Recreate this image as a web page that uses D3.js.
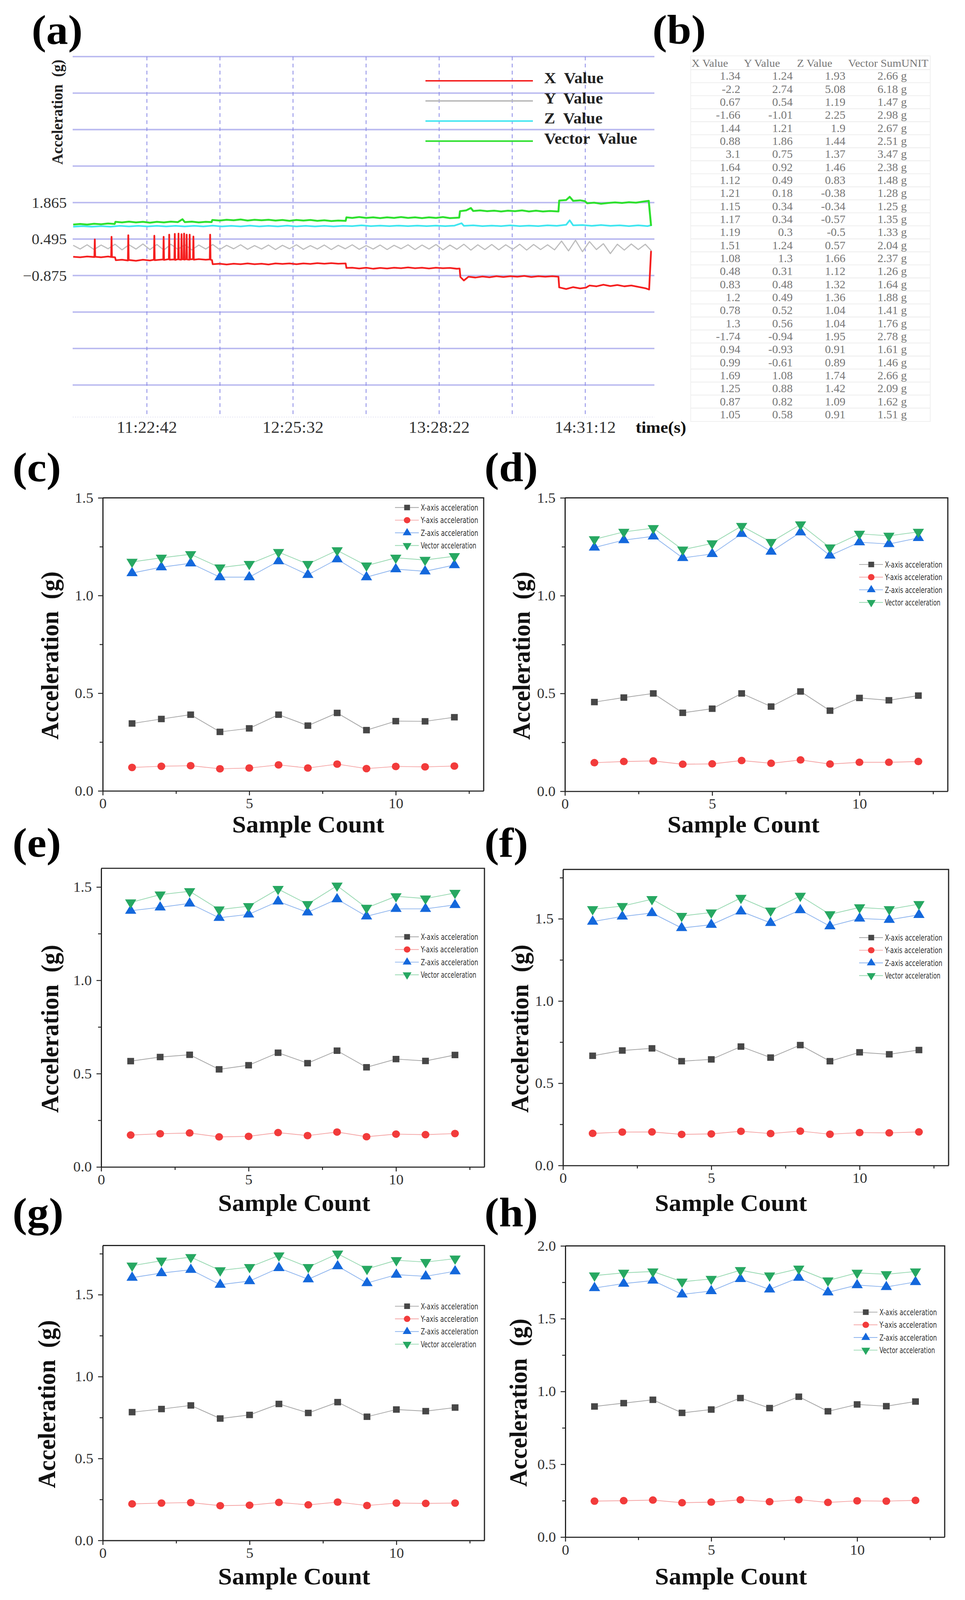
<!DOCTYPE html>
<html>
<head>
<meta charset="utf-8">
<title>Acceleration</title>
<script src="https://cdn.jsdelivr.net/npm/d3@7"></script>
<style>
  html, body { margin: 0; padding: 0; height: 100%; overflow: hidden; background: #fff; }
  svg { display: block; width: 100vw; height: 100vh; }
</style>
</head>
<body>
<script>
// ---------- panel (a): live readings, [time, g] ----------
var xValueA = [["10:51:00",-0.17],["10:54:00",-0.19],["10:57:00",-0.16],["11:00:08",-0.18],["11:00:18",0.48],["11:00:28",-0.17],
  ["11:03:00",-0.19],["11:06:00",-0.16],["11:07:20",-0.18],["11:07:30",0.58],["11:07:40",-0.18],["11:09:00",-0.19],["11:09:20",-0.30],
  ["11:12:00",-0.28],["11:14:32",-0.31],["11:14:42",0.64],["11:14:52",-0.29],["11:18:00",-0.32],["11:21:00",-0.28],["11:24:00",-0.31],
  ["11:25:44",-0.28],["11:25:54",0.62],["11:26:04",-0.30],["11:29:44",-0.27],["11:29:54",0.58],["11:30:04",-0.29],["11:32:08",-0.26],
  ["11:32:18",0.66],["11:32:28",-0.28],["11:34:32",-0.27],["11:34:42",0.69],["11:34:52",-0.29],["11:36:08",-0.26],["11:36:18",0.70],
  ["11:36:28",-0.27],["11:37:26",-0.28],["11:37:36",0.68],["11:37:46",-0.26],["11:38:32",-0.27],["11:38:42",0.70],["11:38:52",-0.28],
  ["11:39:38",-0.26],["11:39:48",0.66],["11:39:58",-0.27],["11:40:56",-0.28],["11:41:06",0.66],["11:41:16",-0.27],["11:42:32",-0.26],
  ["11:42:42",0.59],["11:42:52",-0.28],["11:45:00",-0.26],["11:48:00",-0.28],["11:49:44",-0.27],["11:49:54",0.66],["11:50:04",-0.28],
  ["11:50:40",-0.29],["11:51:00",-0.45],["11:54:00",-0.43],["11:57:00",-0.46],["12:00:00",-0.43],["12:03:00",-0.45],["12:06:00",-0.42],
  ["12:09:00",-0.45],["12:12:00",-0.43],["12:15:00",-0.46],["12:18:00",-0.42],["12:21:00",-0.44],["12:24:00",-0.42],["12:27:00",-0.45],
  ["12:30:00",-0.42],["12:33:00",-0.44],["12:36:00",-0.41],["12:39:00",-0.43],["12:42:00",-0.41],["12:45:00",-0.43],["12:48:10",-0.42],
  ["12:48:30",-0.59],["12:51:00",-0.58],["12:54:00",-0.61],["12:57:00",-0.58],["13:00:00",-0.62],["13:03:00",-0.59],["13:06:00",-0.61],
  ["13:09:00",-0.58],["13:12:00",-0.60],["13:15:00",-0.57],["13:18:00",-0.60],["13:21:00",-0.58],["13:24:00",-0.61],["13:27:00",-0.58],
  ["13:30:00",-0.60],["13:33:00",-0.59],["13:36:00",-0.62],["13:37:10",-0.61],["13:37:30",-0.93],["13:39:00",-1.06],["13:41:00",-0.92],
  ["13:44:00",-0.95],["13:47:00",-0.91],["13:50:00",-0.94],["13:53:00",-0.90],["13:56:00",-0.93],["13:59:00",-0.90],["14:02:00",-0.92],
  ["14:05:00",-0.89],["14:08:00",-0.93],["14:11:00",-0.90],["14:14:00",-0.92],["14:17:00",-0.90],["14:19:40",-0.92],["14:20:00",-1.32],
  ["14:23:00",-1.38],["14:26:00",-1.31],["14:29:00",-1.36],["14:31:30",-1.33],["14:33:00",-1.25],["14:36:00",-1.28],["14:39:00",-1.22],
  ["14:42:00",-1.27],["14:45:00",-1.23],["14:48:00",-1.28],["14:51:00",-1.25],["14:54:00",-1.30],["14:57:00",-1.35],["14:58:40",-1.40],
  ["14:59:30",0.05]];
var yValueA = [["10:51:00",0.26],["10:54:00",0.12],["10:57:00",0.28],["11:00:00",0.10],["11:03:00",0.27],["11:06:00",0.13],["11:09:00",0.30],
  ["11:12:00",0.09],["11:15:00",0.28],["11:18:00",0.12],["11:21:00",0.31],["11:24:00",0.10],["11:27:00",0.29],["11:30:00",0.08],
  ["11:33:00",0.30],["11:36:00",0.11],["11:39:00",0.28],["11:42:00",0.09],["11:45:00",0.27],["11:48:00",0.12],["11:51:00",0.29],
  ["11:54:00",0.10],["11:57:00",0.26],["12:00:00",0.13],["12:03:00",0.28],["12:06:00",0.11],["12:09:00",0.25],["12:12:00",0.12],
  ["12:15:00",0.27],["12:18:00",0.10],["12:21:00",0.26],["12:24:00",0.13],["12:27:00",0.28],["12:30:00",0.11],["12:33:00",0.25],
  ["12:36:00",0.12],["12:39:00",0.27],["12:42:00",0.10],["12:45:00",0.26],["12:48:00",0.13],["12:51:00",0.28],["12:54:00",0.11],
  ["12:57:00",0.25],["13:00:00",0.12],["13:03:00",0.27],["13:06:00",0.10],["13:09:00",0.26],["13:12:00",0.13],["13:15:00",0.28],
  ["13:18:00",0.10],["13:21:00",0.27],["13:24:00",0.12],["13:27:00",0.29],["13:30:00",0.09],["13:33:00",0.27],["13:36:00",0.11],
  ["13:39:00",0.30],["13:42:00",0.08],["13:45:00",0.28],["13:48:00",0.10],["13:51:00",0.29],["13:54:00",0.09],["13:57:00",0.28],
  ["14:00:00",0.11],["14:03:00",0.30],["14:06:00",0.08],["14:09:00",0.29],["14:12:00",0.10],["14:15:00",0.28],["14:18:00",0.09],
  ["14:21:00",0.42],["14:24:00",0.05],["14:27:00",0.45],["14:30:00",0.02],["14:33:00",0.40],["14:36:00",0.10],["14:39:00",0.32],
  ["14:42:00",-0.05],["14:45:00",0.30],["14:48:00",0.08],["14:51:00",0.31],["14:54:00",0.10],["14:57:00",0.30],["14:59:40",0.05]];
var zValueA = [["10:51:00",0.96],["10:55:00",0.98],["10:59:00",0.96],["11:03:00",0.98],["11:07:00",0.96],["11:11:00",0.99],["11:15:00",0.97],
  ["11:19:00",0.99],["11:23:00",0.97],["11:27:00",0.99],["11:31:00",0.97],["11:35:00",0.99],["11:39:00",0.97],["11:43:00",0.99],
  ["11:47:00",0.97],["11:51:00",1.00],["11:55:00",0.97],["11:59:00",0.99],["12:03:00",0.97],["12:07:00",1.00],["12:11:00",0.97],
  ["12:15:00",0.99],["12:19:00",0.97],["12:23:00",1.00],["12:27:00",0.97],["12:31:00",0.99],["12:35:00",0.97],["12:39:00",0.99],
  ["12:43:00",0.97],["12:47:00",0.99],["12:51:00",0.98],["12:55:00",1.01],["12:59:00",0.98],["13:03:00",1.00],["13:07:00",0.98],
  ["13:11:00",1.00],["13:15:00",0.98],["13:19:00",1.00],["13:23:00",0.98],["13:27:00",1.00],["13:31:00",0.98],["13:35:00",1.00],
  ["13:38:00",1.09],["13:39:00",0.99],["13:43:00",1.01],["13:47:00",0.98],["13:51:00",1.00],["13:55:00",0.98],["13:59:00",1.01],
  ["14:03:00",0.98],["14:07:00",1.00],["14:11:00",0.98],["14:15:00",1.01],["14:19:00",0.99],["14:23:00",1.03],["14:24:30",1.20],
  ["14:26:00",1.01],["14:30:00",1.02],["14:34:00",0.99],["14:38:00",1.02],["14:42:00",0.99],["14:46:00",1.01],["14:50:00",0.98],
  ["14:54:00",1.01],["14:58:00",0.98],["14:59:50",1.02]];
var vectorValueA = [["10:51:00",1.04],["10:54:00",1.06],["10:57:00",1.04],["11:00:00",1.07],["11:03:00",1.05],["11:06:00",1.08],
  ["11:08:50",1.06],["11:09:10",1.14],["11:12:00",1.12],["11:15:00",1.15],["11:18:00",1.12],["11:21:00",1.14],["11:24:00",1.11],
  ["11:27:00",1.14],["11:30:00",1.12],["11:33:00",1.15],["11:36:00",1.13],["11:38:00",1.24],["11:39:00",1.13],["11:42:00",1.15],
  ["11:45:00",1.12],["11:48:00",1.14],["11:50:30",1.13],["11:50:50",1.21],["11:54:00",1.19],["11:57:00",1.22],["12:00:00",1.20],
  ["12:03:00",1.23],["12:06:00",1.19],["12:09:00",1.22],["12:12:00",1.20],["12:15:00",1.22],["12:18:00",1.19],["12:21:00",1.21],
  ["12:24:00",1.18],["12:27:00",1.21],["12:30:00",1.19],["12:33:00",1.21],["12:36:00",1.18],["12:39:00",1.20],["12:42:00",1.17],
  ["12:45:00",1.19],["12:48:10",1.18],["12:48:30",1.31],["12:51:00",1.29],["12:54:00",1.32],["12:57:00",1.29],["13:00:00",1.31],
  ["13:03:00",1.28],["13:06:00",1.31],["13:09:00",1.29],["13:12:00",1.32],["13:15:00",1.29],["13:18:00",1.31],["13:21:00",1.28],
  ["13:24:00",1.31],["13:27:00",1.29],["13:30:00",1.32],["13:33:00",1.28],["13:37:00",1.30],["13:37:20",1.54],["13:40:00",1.57],
  ["13:42:00",1.66],["13:43:00",1.55],["13:46:00",1.57],["13:49:00",1.54],["13:52:00",1.56],["13:55:00",1.53],["13:58:00",1.56],
  ["14:01:00",1.54],["14:04:00",1.57],["14:07:00",1.53],["14:10:00",1.56],["14:13:00",1.53],["14:16:00",1.55],["14:19:40",1.53],
  ["14:20:00",1.94],["14:23:00",1.96],["14:24:30",2.08],["14:26:00",1.93],["14:29:00",1.95],["14:31:00",1.92],["14:32:00",1.84],
  ["14:35:00",1.86],["14:38:00",1.82],["14:41:00",1.85],["14:44:00",1.87],["14:47:00",1.85],["14:50:00",1.88],["14:53:00",1.86],
  ["14:56:00",1.90],["14:58:30",1.93],["14:59:30",0.99]];

var gridValuesA = [-4.985, -3.615, -2.245, -0.875, 0.495, 1.865, 3.235, 4.605, 5.975, 7.345];
var tickValuesA = [1.865, 0.495, -0.875];
var gridTimesA = ["11:22:42", "11:54:07", "12:25:32", "12:56:57", "13:28:22", "13:59:47", "14:31:12"];
var tickTimesA = ["11:22:42", "12:25:32", "13:28:22", "14:31:12"];
var timeDomainA = ["10:50:47", "15:00:56"];
var legendA = ["X  Value", "Y  Value", "Z  Value", "Vector  Value"];

// ---------- panel (b): readout table ----------
var tableHeaders = ["X Value", "Y Value", "Z Value", "Vector SumUNIT"];
var tableX = [1.34, -2.2, 0.67, -1.66, 1.44, 0.88, 3.1, 1.64, 1.12, 1.21, 1.15, 1.17, 1.19, 1.51, 1.08, 0.48, 0.83, 1.2, 0.78, 1.3, -1.74, 0.94, 0.99, 1.69, 1.25, 0.87, 1.05];
var tableY = [1.24, 2.74, 0.54, -1.01, 1.21, 1.86, 0.75, 0.92, 0.49, 0.18, 0.34, 0.34, 0.3, 1.24, 1.3, 0.31, 0.48, 0.49, 0.52, 0.56, -0.94, -0.93, -0.61, 1.08, 0.88, 0.82, 0.58];
var tableZ = [1.93, 5.08, 1.19, 2.25, 1.9, 1.44, 1.37, 1.46, 0.83, -0.38, -0.34, -0.57, -0.5, 0.57, 1.66, 1.12, 1.32, 1.36, 1.04, 1.04, 1.95, 0.91, 0.89, 1.74, 1.42, 1.09, 0.91];
var tableVector = [2.66, 6.18, 1.47, 2.98, 2.67, 2.51, 3.47, 2.38, 1.48, 1.28, 1.25, 1.35, 1.33, 2.04, 2.37, 1.26, 1.64, 1.88, 1.41, 1.76, 2.78, 1.61, 1.46, 2.66, 2.09, 1.62, 1.51];

// ---------- panels (c)-(h): 12 samples each ----------
var sampleCount = [1, 2, 3, 4, 5, 6, 7, 8, 9, 10, 11, 12];
var cX = [0.345, 0.368, 0.390, 0.302, 0.320, 0.390, 0.334, 0.399, 0.311, 0.357, 0.356, 0.377];
var cY = [0.120, 0.126, 0.129, 0.113, 0.117, 0.133, 0.117, 0.137, 0.114, 0.125, 0.123, 0.127];
var cZ = [1.115, 1.145, 1.165, 1.094, 1.094, 1.176, 1.106, 1.186, 1.094, 1.135, 1.124, 1.156];
var cV = [1.172, 1.193, 1.211, 1.143, 1.161, 1.222, 1.161, 1.231, 1.153, 1.193, 1.182, 1.201];
var dX = [0.456, 0.479, 0.500, 0.401, 0.422, 0.500, 0.433, 0.510, 0.412, 0.477, 0.465, 0.489];
var dY = [0.146, 0.152, 0.155, 0.138, 0.140, 0.157, 0.143, 0.160, 0.139, 0.148, 0.148, 0.152];
var dZ = [1.246, 1.284, 1.303, 1.193, 1.213, 1.316, 1.225, 1.324, 1.205, 1.273, 1.264, 1.295];
var dV = [1.288, 1.326, 1.345, 1.235, 1.267, 1.356, 1.274, 1.364, 1.246, 1.316, 1.306, 1.326];
var eX = [0.567, 0.589, 0.601, 0.523, 0.545, 0.612, 0.556, 0.623, 0.534, 0.578, 0.568, 0.600];
var eY = [0.171, 0.178, 0.182, 0.161, 0.164, 0.184, 0.168, 0.187, 0.162, 0.176, 0.173, 0.179];
var eZ = [1.373, 1.391, 1.412, 1.335, 1.353, 1.423, 1.364, 1.435, 1.343, 1.383, 1.383, 1.404];
var eV = [1.417, 1.459, 1.477, 1.379, 1.397, 1.489, 1.408, 1.507, 1.388, 1.450, 1.438, 1.468];
var fX = [0.667, 0.699, 0.712, 0.634, 0.645, 0.723, 0.656, 0.732, 0.634, 0.688, 0.676, 0.702];
var fY = [0.195, 0.203, 0.204, 0.189, 0.192, 0.208, 0.194, 0.209, 0.190, 0.200, 0.198, 0.204];
var fZ = [1.483, 1.514, 1.535, 1.444, 1.464, 1.545, 1.475, 1.553, 1.455, 1.502, 1.494, 1.524];
var fV = [1.558, 1.577, 1.619, 1.517, 1.538, 1.627, 1.549, 1.639, 1.527, 1.569, 1.558, 1.589];
var gX = [0.783, 0.802, 0.824, 0.744, 0.766, 0.833, 0.778, 0.844, 0.755, 0.799, 0.789, 0.811];
var gY = [0.223, 0.228, 0.231, 0.212, 0.215, 0.232, 0.217, 0.234, 0.213, 0.228, 0.226, 0.228];
var gZ = [1.604, 1.632, 1.652, 1.561, 1.583, 1.663, 1.594, 1.674, 1.571, 1.622, 1.612, 1.643];
var gV = [1.677, 1.707, 1.729, 1.648, 1.668, 1.739, 1.668, 1.750, 1.657, 1.710, 1.699, 1.720];
var hX = [0.897, 0.920, 0.943, 0.853, 0.876, 0.955, 0.886, 0.964, 0.864, 0.911, 0.899, 0.931];
var hY = [0.247, 0.250, 0.254, 0.236, 0.240, 0.256, 0.243, 0.257, 0.238, 0.249, 0.247, 0.252];
var hZ = [1.711, 1.741, 1.762, 1.667, 1.690, 1.773, 1.701, 1.782, 1.681, 1.731, 1.718, 1.752];
var hV = [1.796, 1.815, 1.824, 1.754, 1.773, 1.833, 1.796, 1.843, 1.762, 1.815, 1.805, 1.824];
var yMaxes = [1.5, 1.5, 1.6, 1.8, 1.8, 2.0];
var legendNames = ["X-axis acceleration", "Y-axis acceleration", "Z-axis acceleration", "Vector acceleration"];

var width = 2470;
var height = 4297;
var serif = "'Liberation Serif', 'Times New Roman', serif";

// drawn in 2470x4297 units, stretched to whatever the visible window is
var svg = d3.select("body")
    .append("svg")
    .attr("viewBox", "0 0 " + width + " " + height)
    .attr("preserveAspectRatio", "none");
svg.append("rect").attr("width", width).attr("height", height).attr("fill", "#fff");

function panelLabel(txt, x, y) {
    svg.append("text")
        .attr("x", x).attr("y", y)
        .attr("font-family", serif)
        .attr("font-weight", "bold")
        .attr("font-size", 112)
        .attr("fill", "#000")
        .text(txt);
}

// ================= (a) =================
var parseT = d3.timeParse("%H:%M:%S");
var aLeft = 186, aRight = 1675, aBottomEdge = 1120;
var xA = d3.scaleTime()
    .domain(timeDomainA.map(parseT))
    .range([aLeft, aRight]);
var yA = d3.scaleLinear()
    .domain([-4.985, 7.345])
    .range([1034, 152]);

panelLabel("(a)", 81, 117);

var ga = svg.append("g");
ga.selectAll(".hgrid")
    .data(gridValuesA)
    .enter().append("line")
    .attr("x1", aLeft).attr("x2", aRight)
    .attr("y1", d => yA(d)).attr("y2", d => yA(d))
    .attr("stroke", "#babaf0")
    .attr("stroke-width", 4);
ga.selectAll(".vgrid")
    .data(gridTimesA)
    .enter().append("line")
    .attr("x1", d => xA(parseT(d))).attr("x2", d => xA(parseT(d)))
    .attr("y1", yA(7.345)).attr("y2", aBottomEdge)
    .attr("stroke", "#8a8ae6")
    .attr("stroke-width", 2)
    .attr("stroke-dasharray", "10,9");
ga.append("line")
    .attr("x1", aLeft).attr("x2", aRight)
    .attr("y1", aBottomEdge).attr("y2", aBottomEdge)
    .attr("stroke", "#e2e2f2").attr("stroke-width", 2)
    .attr("stroke-dasharray", "3,3");

svg.append("clipPath").attr("id", "clipA")
    .append("rect").attr("x", aLeft).attr("y", 140)
    .attr("width", aRight - aLeft).attr("height", aBottomEdge - 140);

var lineA = d3.line()
    .x(d => xA(parseT(d[0])))
    .y(d => yA(d[1]));
var seriesA = [
    {data: yValueA, color: "#bdbdbd", w: 3},
    {data: zValueA, color: "#3fe6f0", w: 4.5},
    {data: vectorValueA, color: "#2ee02e", w: 5},
    {data: xValueA, color: "#f51f1f", w: 4.5}
];
var gLines = svg.append("g").attr("clip-path", "url(#clipA)");
gLines.selectAll("path")
    .data(seriesA)
    .enter().append("path")
    .attr("fill", "none")
    .attr("stroke", d => d.color)
    .attr("stroke-width", d => d.w)
    .attr("stroke-linejoin", "round")
    .attr("d", d => lineA(d.data));

ga.selectAll(".ytick")
    .data(tickValuesA)
    .enter().append("text")
    .attr("x", 171)
    .attr("y", d => yA(d))
    .attr("dy", "0.35em")
    .attr("text-anchor", "end")
    .attr("font-family", serif)
    .attr("font-size", 40)
    .attr("fill", "#333")
    .text(d => d3.format(".3f")(d));

ga.selectAll(".xtick")
    .data(tickTimesA)
    .enter().append("text")
    .attr("x", d => xA(parseT(d)))
    .attr("y", 1162)
    .attr("text-anchor", "middle")
    .attr("font-family", serif)
    .attr("font-size", 44)
    .attr("fill", "#333")
    .text(d => d);

ga.append("text")
    .attr("x", 1627).attr("y", 1162)
    .attr("font-family", serif).attr("font-weight", "bold")
    .attr("font-size", 44).attr("fill", "#111")
    .text("time(s)");

ga.append("text")
    .attr("transform", "translate(160,301) rotate(-90)")
    .attr("text-anchor", "middle")
    .attr("font-family", serif).attr("font-weight", "bold")
    .attr("font-size", 40).attr("fill", "#222")
    .style("white-space", "pre")
    .text("Acceleration  (g)");

var legendColorsA = ["#f51f1f", "#b9b9b9", "#3fe6f0", "#2ee02e"];
var legA = ga.selectAll(".legA")
    .data(legendA)
    .enter().append("g")
    .attr("transform", (d, i) => "translate(1089," + (217 + i * 54) + ")");
legA.append("line")
    .attr("x1", 0).attr("x2", 275)
    .attr("stroke", (d, i) => legendColorsA[i])
    .attr("stroke-width", 4);
legA.append("text")
    .attr("x", 304).attr("y", -8)
    .attr("dy", "0.35em")
    .attr("font-family", serif).attr("font-weight", "bold")
    .attr("font-size", 42).attr("fill", "#222")
    .style("white-space", "pre")
    .text(d => d);

// ================= (b) =================
panelLabel("(b)", 1670, 117);
var gb = svg.append("g");
var rowY = d3.scalePoint().domain(d3.range(tableX.length)).range([204, 1113]);
var colRight = [1895, 2029, 2164, 2321];
var colHead = [1770, 1904, 2040, 2171];
gb.append("rect")
    .attr("x", 1768).attr("y", 150).attr("width", 613).attr("height", 982)
    .attr("fill", "none").attr("stroke", "#f0f0f0").attr("stroke-width", 2);
gb.selectAll(".rowline")
    .data(d3.range(tableX.length))
    .enter().append("line")
    .attr("x1", 1768).attr("x2", 2381)
    .attr("y1", d => rowY(d) - 17).attr("y2", d => rowY(d) - 17)
    .attr("stroke", "#ececec").attr("stroke-width", 2);
gb.selectAll(".head")
    .data(tableHeaders)
    .enter().append("text")
    .attr("x", (d, i) => colHead[i]).attr("y", 169)
    .attr("dy", "0.35em")
    .attr("font-family", serif).attr("font-size", 29)
    .attr("fill", "#777")
    .text(d => d);
var tableCols = [tableX, tableY, tableZ, tableVector];
tableCols.forEach(function(col, ci) {
    gb.selectAll(".cell" + ci)
        .data(col)
        .enter().append("text")
        .attr("x", colRight[ci])
        .attr("y", (d, i) => rowY(i))
        .attr("dy", "0.35em")
        .attr("text-anchor", "end")
        .attr("font-family", serif).attr("font-size", 30)
        .attr("fill", "#777")
        .text(d => ci === 3 ? d.toFixed(2) + " g" : String(d));
});

// ================= (c)-(h) =================
var markColors = ["#474747", "#f23b3b", "#1468dc", "#27a862"];
var lineColors = ["#a5a5a5", "#f5a5a5", "#8db4ee", "#96d8b0"];
var symbols = [d3.symbolSquare, d3.symbolCircle, d3.symbolTriangle, d3.symbolTriangle];
var symSize = [300, 320, 360, 360];

var panels = [
    {label: "(c)", lx: 32, ly: 1292, left: 263, right: 1238, top: 1337, bottom: 2124, legX: 1011, legY: 1363, tX: 789, tY: 2213, yX: 127, data: [cX, cY, cZ, cV]},
    {label: "(d)", lx: 1240, ly: 1292, left: 1446, right: 2426, top: 1337, bottom: 2125, legX: 2199, legY: 1516, tX: 1903, tY: 2213, yX: 1334, data: [dX, dY, dZ, dV]},
    {label: "(e)", lx: 32, ly: 2301, left: 259, right: 1240, top: 2332, bottom: 3134, legX: 1011, legY: 2516, tX: 753, tY: 3230, yX: 127, data: [eX, eY, eZ, eV]},
    {label: "(f)", lx: 1240, ly: 2301, left: 1441, right: 2428, top: 2335, bottom: 3130, legX: 2199, legY: 2518, tX: 1871, tY: 3230, yX: 1330, data: [fX, fY, fZ, fV]},
    {label: "(g)", lx: 32, ly: 3294, left: 263, right: 1240, top: 3345, bottom: 4137, legX: 1011, legY: 3508, tX: 753, tY: 4233, yX: 119, data: [gX, gY, gZ, gV]},
    {label: "(h)", lx: 1240, ly: 3294, left: 1447, right: 2418, top: 3346, bottom: 4128, legX: 2185, legY: 3524, tX: 1871, tY: 4233, yX: 1326, data: [hX, hY, hZ, hV]}
];

function symbolPath(k, size) {
    return d3.symbol().type(symbols[k]).size(size)();
}

panels.forEach(function(p, pi) {
    var yMax = yMaxes[pi];
    var x = d3.scaleLinear().domain([0, 13]).range([p.left, p.right]);
    var y = d3.scaleLinear().domain([0, yMax]).range([p.bottom, p.top]);
    var g = svg.append("g");

    panelLabel(p.label, p.lx, p.ly);

    // frame top / right
    g.append("path")
        .attr("d", "M" + p.left + "," + p.top + "H" + p.right + "V" + p.bottom)
        .attr("fill", "none").attr("stroke", "#222").attr("stroke-width", 3);

    g.append("g")
        .attr("transform", "translate(0," + p.bottom + ")")
        .call(d3.axisBottom(x).tickValues([0, 5, 10]).tickSize(12).tickSizeOuter(0).tickPadding(8).tickFormat(d3.format("d")));
    g.append("g")
        .attr("transform", "translate(0," + p.bottom + ")")
        .call(d3.axisBottom(x).tickValues([2.5, 7.5, 12.5]).tickSize(8).tickSizeOuter(0).tickFormat(""))
        .select(".domain").remove();
    var majorY = d3.range(0, yMax + 0.001, 0.5);
    var minorY = d3.range(0.25, yMax, 0.5);
    g.append("g")
        .attr("transform", "translate(" + p.left + ",0)")
        .call(d3.axisLeft(y).tickValues(majorY).tickSize(12).tickSizeOuter(0).tickPadding(12).tickFormat(d3.format(".1f")));
    g.append("g")
        .attr("transform", "translate(" + p.left + ",0)")
        .call(d3.axisLeft(y).tickValues(minorY).tickSize(8).tickSizeOuter(0).tickFormat(""))
        .select(".domain").remove();
    g.selectAll(".domain").attr("stroke", "#222").attr("stroke-width", 3);
    g.selectAll(".tick line").attr("stroke", "#222").attr("stroke-width", 2.5);
    g.selectAll(".tick text")
        .attr("font-family", serif).attr("font-size", 38).attr("fill", "#333");

    // series lines then markers
    var line = d3.line().x((d, i) => x(sampleCount[i])).y(d => y(d));
    p.data.forEach(function(vals, k) {
        g.append("path")
            .attr("fill", "none")
            .attr("stroke", lineColors[k])
            .attr("stroke-width", 2)
            .attr("d", line(vals));
    });
    p.data.forEach(function(vals, k) {
        g.selectAll(".m" + k)
            .data(vals)
            .enter().append("path")
            .attr("d", symbolPath(k, symSize[k]))
            .attr("transform", (d, i) => "translate(" + x(sampleCount[i]) + "," + y(d) + ")" + (k === 3 ? " rotate(180)" : ""))
            .attr("fill", markColors[k]);
    });

    // legend
    var leg = g.selectAll(".leg")
        .data(legendNames)
        .enter().append("g")
        .attr("transform", (d, i) => "translate(" + p.legX + "," + (p.legY + i * 34) + ")");
    leg.append("line")
        .attr("x1", 0).attr("x2", 61)
        .attr("stroke", (d, i) => lineColors[i])
        .attr("stroke-width", 2);
    leg.append("path")
        .attr("d", (d, i) => symbolPath(i, 220))
        .attr("transform", (d, i) => "translate(31,0)" + (i === 3 ? " rotate(180)" : ""))
        .attr("fill", (d, i) => markColors[i]);
    leg.append("text")
        .attr("x", 66)
        .attr("dy", "0.35em")
        .attr("font-family", "'Liberation Sans Narrow', 'DejaVu Sans Condensed', 'Liberation Sans', sans-serif")
        .attr("font-size", 23)
        .attr("textLength", (d, i) => i === 3 ? 142 : 147)
        .attr("lengthAdjust", "spacingAndGlyphs")
        .attr("fill", "#333")
        .text(d => d);

    // axis titles
    g.append("text")
        .attr("x", p.tX).attr("y", p.tY)
        .attr("dy", "0.35em")
        .attr("text-anchor", "middle")
        .attr("font-family", serif).attr("font-weight", "bold")
        .attr("font-size", 64).attr("fill", "#111")
        .text("Sample Count");
    g.append("text")
        .attr("transform", "translate(" + p.yX + "," + ((p.top + p.bottom) / 2 + 30) + ") rotate(-90)")
        .attr("dy", "0.35em")
        .attr("text-anchor", "middle")
        .attr("font-family", serif).attr("font-weight", "bold")
        .attr("font-size", 64).attr("fill", "#111")
        .style("white-space", "pre")
        .text("Acceleration  (g)");
});
</script>
</body>
</html>
